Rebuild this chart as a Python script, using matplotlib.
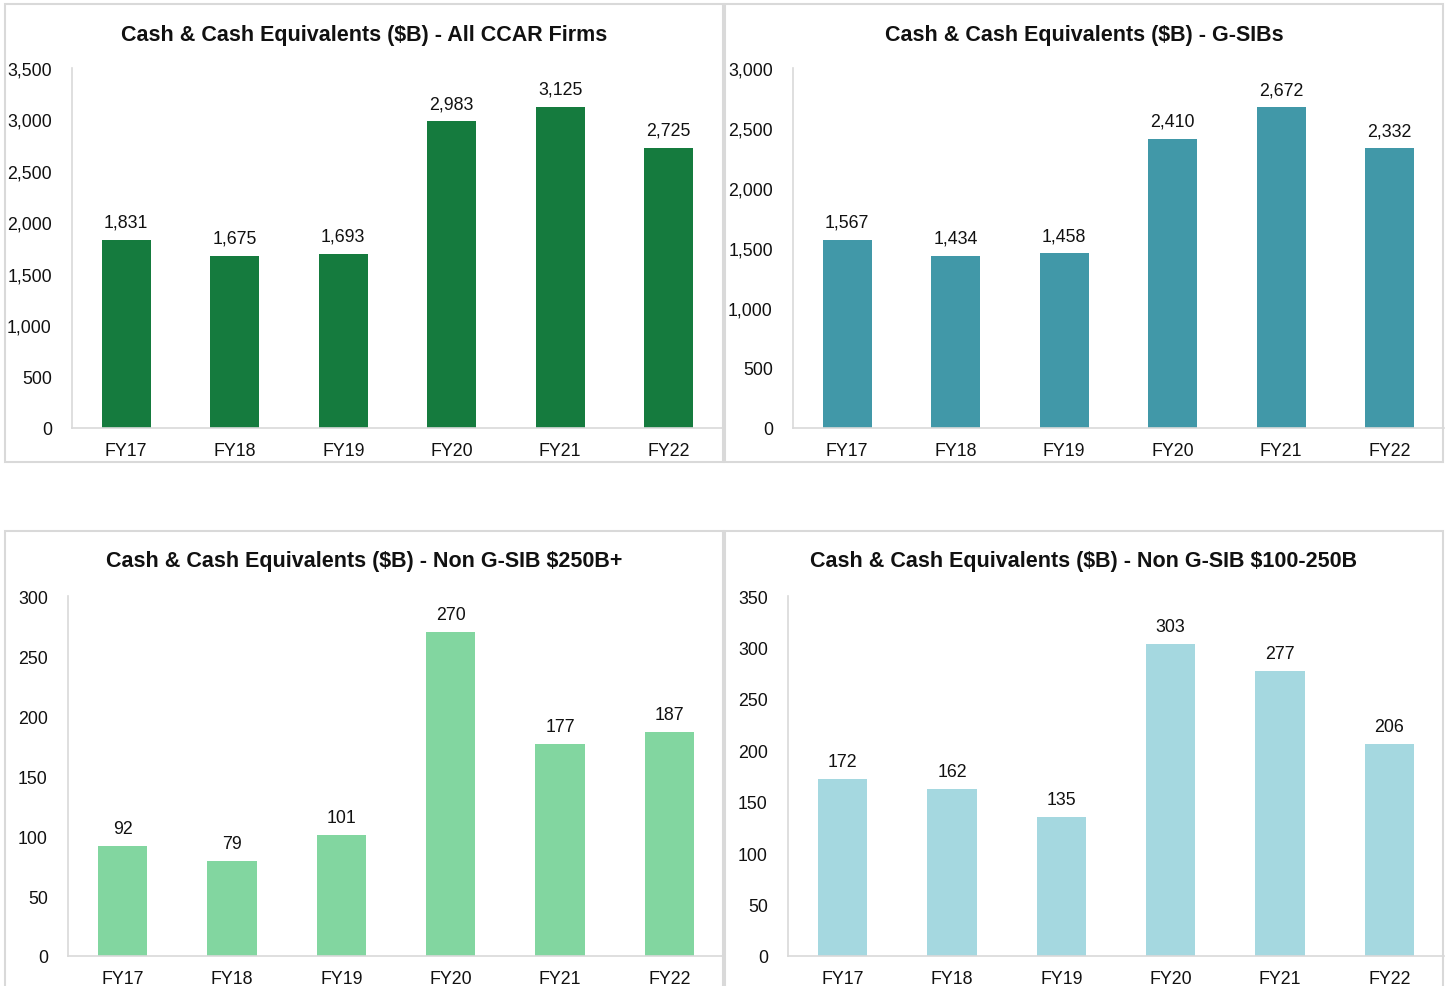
import matplotlib
matplotlib.use("Agg")
import matplotlib.pyplot as plt
from matplotlib.patches import Rectangle

plt.rcParams['font.family'] = ['Liberation Sans', 'DejaVu Sans']

years = ["FY17", "FY18", "FY19", "FY20", "FY21", "FY22"]
all_ccar = [1831, 1675, 1693, 2983, 3125, 2725]
gsibs = [1567, 1434, 1458, 2410, 2672, 2332]
non_gsib_250 = [92, 79, 101, 270, 177, 187]
non_gsib_100_250 = [172, 162, 135, 303, 277, 206]

W, H = 1447, 987
fig = plt.figure(figsize=(W / 100, H / 100), dpi=100)

grid_col = "#d9d9d9"

# frame box, axes box (pixels), data, title, colour, ymax, step, title y
panels = [
    ((5, 5, 723, 463), (72, 69, 723, 429), all_ccar,
     r"Cash & Cash Equivalents (\$B) - All CCAR Firms", "#157b3e", 3500, 500, 35),
    ((725, 5, 1443, 463), (793, 69, 1444, 429), gsibs,
     r"Cash & Cash Equivalents (\$B) - G-SIBs", "#4198a8", 3000, 500, 35),
    ((5, 532, 723, 1000), (68, 597, 724, 957), non_gsib_250,
     r"Cash & Cash Equivalents (\$B) - Non G-SIB \$250B+", "#82d6a0", 300, 50, 562),
    ((725, 532, 1443, 1000), (788, 597, 1444, 957), non_gsib_100_250,
     r"Cash & Cash Equivalents (\$B) - Non G-SIB \$100-250B", "#a5d8e0", 350, 50, 562),
]


def px(x0, y0, x1, y1):
    return [x0 / W, 1 - y1 / H, (x1 - x0) / W, (y1 - y0) / H]


for frame, box, vals, title, color, ymax, step, ty in panels:
    fx0, fy0, fx1, fy1 = frame
    fig.patches.append(Rectangle((fx0 / W, 1 - fy1 / H), (fx1 - fx0) / W, (fy1 - fy0) / H,
                                 transform=fig.transFigure, fill=False,
                                 edgecolor=grid_col, linewidth=1.5, zorder=0))
    fig.text((fx0 + fx1) / 2 / W, 1 - ty / H, title, ha="center", va="center",
             fontsize=15.5, fontweight="bold", color="#111111")

    ax = fig.add_axes(px(*box))
    xs = range(len(years))
    bars = ax.bar(xs, vals, width=0.45, color=color)
    ax.set_xlim(-0.5, len(years) - 0.5)
    ax.set_ylim(0, ymax)
    ax.set_yticks(range(0, ymax + 1, step))
    ax.set_yticklabels([f"{v:,}" for v in range(0, ymax + 1, step)])
    ax.set_xticks(list(xs))
    ax.set_xticklabels(years)
    ax.tick_params(axis="both", length=0, labelsize=12.8, colors="#111111")
    ax.tick_params(axis="y", pad=14.5)
    ax.tick_params(axis="x", pad=10)
    for s in ["top", "right"]:
        ax.spines[s].set_visible(False)
    for s in ["left", "bottom"]:
        ax.spines[s].set_color(grid_col)
        ax.spines[s].set_linewidth(1.2)
    ax.patch.set_alpha(0)
    for b, v in zip(bars, vals):
        ax.annotate(f"{v:,}", (b.get_x() + b.get_width() / 2, v), xytext=(0, 6.5),
                    textcoords="offset points", ha="center", va="bottom",
                    fontsize=12.8, color="#111111")

fig.savefig("out.png", dpi=100)
